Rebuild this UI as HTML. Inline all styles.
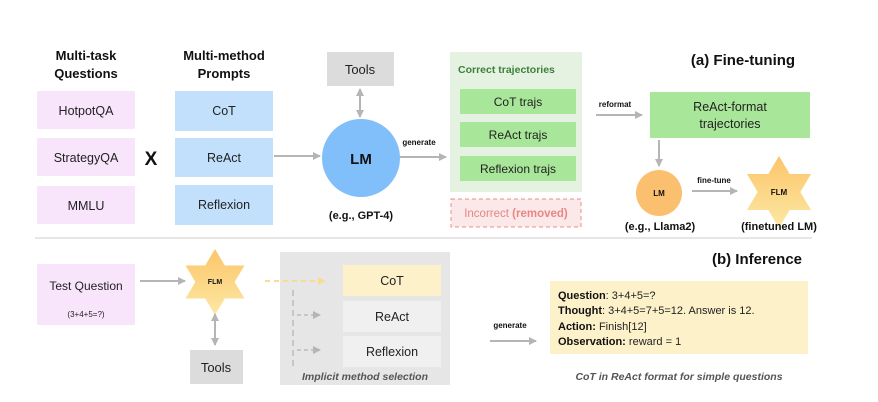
<!DOCTYPE html>
<html><head><meta charset="utf-8"><style>
html,body{margin:0;padding:0;background:#fff;}
svg{display:block;font-family:"Liberation Sans",sans-serif;}
</style></head><body>
<svg width="878" height="402" viewBox="0 0 878 402" xmlns="http://www.w3.org/2000/svg">
<defs>
<marker id="ah" markerWidth="8" markerHeight="8" refX="7" refY="4" orient="auto-start-reverse" markerUnits="userSpaceOnUse"><path d="M0,0 L8,4 L0,8 z" fill="#b5b5b5"/></marker>
<marker id="ahy" markerWidth="8" markerHeight="8" refX="7" refY="4" orient="auto" markerUnits="userSpaceOnUse"><path d="M0,0 L8,4 L0,8 z" fill="#f7dc92"/></marker>
<linearGradient id="sg" x1="0" y1="0" x2="0" y2="1"><stop offset="0" stop-color="#fbc56a"/><stop offset="1" stop-color="#fde8a3"/></linearGradient>
<polygon id="star" points="0,-1 0.2887,-0.5 0.866,-0.5 0.577,0 0.866,0.5 0.2887,0.5 0,1 -0.2887,0.5 -0.866,0.5 -0.577,0 -0.866,-0.5 -0.2887,-0.5"/>
</defs>

<g font-weight="bold" font-size="13" text-anchor="middle" fill="#111">
<text x="86" y="60">Multi-task</text><text x="86" y="78">Questions</text>
<text x="224" y="60">Multi-method</text><text x="224" y="78">Prompts</text>
</g>
<g font-size="12.5" text-anchor="middle" fill="#222">
<rect x="37" y="91" width="98" height="38" fill="#f8e5fb"/><text x="86" y="115">HotpotQA</text>
<rect x="37" y="138" width="98" height="38" fill="#f8e5fb"/><text x="86" y="162">StrategyQA</text>
<rect x="37" y="186" width="98" height="38" fill="#f8e5fb"/><text x="86" y="210">MMLU</text>
<rect x="175" y="91" width="98" height="40" fill="#c2e0fb"/><text x="224" y="115">CoT</text>
<rect x="175" y="138" width="98" height="39" fill="#c2e0fb"/><text x="224" y="162">ReAct</text>
<rect x="175" y="185" width="98" height="40" fill="#c2e0fb"/><text x="224" y="209">Reflexion</text>
</g>
<text x="151" y="165" font-size="19" font-weight="bold" text-anchor="middle" fill="#111">X</text>

<line x1="274" y1="156" x2="320" y2="156" stroke="#b5b5b5" stroke-width="2" marker-end="url(#ah)"/>
<rect x="327" y="52" width="67" height="34" fill="#dcdcdc"/><text x="360" y="74" font-size="13" text-anchor="middle" fill="#222">Tools</text>
<line x1="360" y1="89" x2="360" y2="117" stroke="#b5b5b5" stroke-width="2" marker-start="url(#ah)" marker-end="url(#ah)"/>
<circle cx="361" cy="158" r="39" fill="#80bff9"/>
<text x="361" y="164" font-size="15" font-weight="bold" text-anchor="middle" fill="#111">LM</text>
<text x="361" y="219" font-size="11" font-weight="bold" text-anchor="middle" fill="#111">(e.g., GPT-4)</text>
<text x="419" y="145" font-size="8" font-weight="bold" text-anchor="middle" fill="#111">generate</text>
<line x1="400" y1="157" x2="446" y2="157" stroke="#b5b5b5" stroke-width="2" marker-end="url(#ah)"/>

<rect x="450" y="52" width="132" height="140" fill="#e5f1e1"/>
<text x="458" y="73" font-size="10.5" font-weight="bold" fill="#3e7f3c">Correct trajectories</text>
<g font-size="12" text-anchor="middle" fill="#222">
<rect x="460" y="89" width="116" height="25" fill="#a8e69a"/><text x="518" y="106">CoT trajs</text>
<rect x="460" y="122" width="116" height="25" fill="#a8e69a"/><text x="518" y="139">ReAct trajs</text>
<rect x="460" y="156" width="116" height="25" fill="#a8e69a"/><text x="518" y="173">Reflexion trajs</text>
</g>
<rect x="451" y="199" width="130" height="28" fill="#fbe8e8" stroke="#ee8d8d" stroke-dasharray="4,3"/>
<text x="516" y="217" font-size="11.5" text-anchor="middle" fill="#e98686">Incorrect <tspan font-weight="bold">(removed)</tspan></text>

<text x="743" y="65" font-size="15" font-weight="bold" text-anchor="middle" fill="#111">(a) Fine-tuning</text>
<text x="615" y="107" font-size="8" font-weight="bold" text-anchor="middle" fill="#111">reformat</text>
<line x1="596" y1="115" x2="642" y2="115" stroke="#b5b5b5" stroke-width="2" marker-end="url(#ah)"/>
<rect x="650" y="92" width="160" height="46" fill="#a8e69a"/>
<text x="730" y="111" font-size="12.5" text-anchor="middle" fill="#222">ReAct-format</text>
<text x="730" y="128" font-size="12.5" text-anchor="middle" fill="#222">trajectories</text>
<line x1="659" y1="140" x2="659" y2="166" stroke="#b5b5b5" stroke-width="2" marker-end="url(#ah)"/>
<circle cx="659" cy="193" r="23" fill="#fbbf70"/>
<text x="659" y="196" font-size="8" font-weight="bold" text-anchor="middle" fill="#111">LM</text>
<text x="714" y="183" font-size="8" font-weight="bold" text-anchor="middle" fill="#111">fine-tune</text>
<line x1="692" y1="191" x2="737" y2="191" stroke="#b5b5b5" stroke-width="2" marker-end="url(#ah)"/>
<use href="#star" transform="translate(779,192) scale(37,36)" fill="url(#sg)"/>
<text x="779" y="195" font-size="8" font-weight="bold" text-anchor="middle" fill="#111">FLM</text>
<text x="660" y="230" font-size="11" font-weight="bold" text-anchor="middle" fill="#111">(e.g., Llama2)</text>
<text x="779" y="230" font-size="11" font-weight="bold" text-anchor="middle" fill="#111">(finetuned LM)</text>

<line x1="35" y1="238" x2="812" y2="238" stroke="#e6e6e6" stroke-width="2"/>

<rect x="37" y="264" width="98" height="61" fill="#f8e5fb"/>
<text x="86" y="290" font-size="12" text-anchor="middle" fill="#222">Test Question</text>
<text x="86" y="317" font-size="8" text-anchor="middle" fill="#222">(3+4+5=?)</text>
<line x1="140" y1="281" x2="185" y2="281" stroke="#b5b5b5" stroke-width="2" marker-end="url(#ah)"/>
<use href="#star" transform="translate(215,282) scale(34,33)" fill="url(#sg)"/>
<text x="215" y="284" font-size="7" font-weight="bold" text-anchor="middle" fill="#111">FLM</text>
<line x1="215" y1="314" x2="215" y2="345" stroke="#b5b5b5" stroke-width="2" marker-start="url(#ah)" marker-end="url(#ah)"/>
<rect x="190" y="350" width="53" height="34" fill="#dcdcdc"/><text x="216" y="372" font-size="13" text-anchor="middle" fill="#222">Tools</text>

<rect x="280" y="252" width="170" height="133" fill="#e6e6e6"/>
<line x1="265" y1="281" x2="325" y2="281" stroke="#f7dc92" stroke-width="2" stroke-dasharray="5,4" marker-end="url(#ahy)"/>
<line x1="293" y1="290" x2="293" y2="366" stroke="#bcbcbc" stroke-width="1.5" stroke-dasharray="6,4"/>
<line x1="297" y1="315" x2="320" y2="315" stroke="#bcbcbc" stroke-width="1.5" stroke-dasharray="4,3" marker-end="url(#ah)"/>
<line x1="297" y1="350" x2="320" y2="350" stroke="#bcbcbc" stroke-width="1.5" stroke-dasharray="4,3" marker-end="url(#ah)"/>
<g font-size="12.5" text-anchor="middle" fill="#222">
<rect x="343" y="265" width="98" height="31" fill="#fdf1ca"/><text x="392" y="285">CoT</text>
<rect x="343" y="301" width="98" height="31" fill="#f0f0f0"/><text x="392" y="321">ReAct</text>
<rect x="343" y="336" width="98" height="31" fill="#f0f0f0"/><text x="392" y="356">Reflexion</text>
</g>
<text x="365" y="380" font-size="10.5" font-weight="bold" font-style="italic" text-anchor="middle" fill="#555">Implicit method selection</text>

<text x="757" y="264" font-size="15" font-weight="bold" text-anchor="middle" fill="#111">(b) Inference</text>
<text x="510" y="328" font-size="8" font-weight="bold" text-anchor="middle" fill="#111">generate</text>
<line x1="490" y1="341" x2="536" y2="341" stroke="#b5b5b5" stroke-width="2" marker-end="url(#ah)"/>
<rect x="550" y="281" width="258" height="73" fill="#fdf1ca"/>
<g font-size="11" fill="#222">
<text x="558" y="299"><tspan font-weight="bold" fill="#111">Question</tspan>: 3+4+5=?</text>
<text x="558" y="314"><tspan font-weight="bold" fill="#111">Thought</tspan>: 3+4+5=7+5=12. Answer is 12.</text>
<text x="558" y="330"><tspan font-weight="bold" fill="#111">Action:</tspan> Finish[12]</text>
<text x="558" y="345"><tspan font-weight="bold" fill="#111">Observation:</tspan> reward = 1</text>
</g>
<text x="679" y="380" font-size="10.5" font-weight="bold" font-style="italic" text-anchor="middle" fill="#555">CoT in ReAct format for simple questions</text>
</svg>
</body></html>
